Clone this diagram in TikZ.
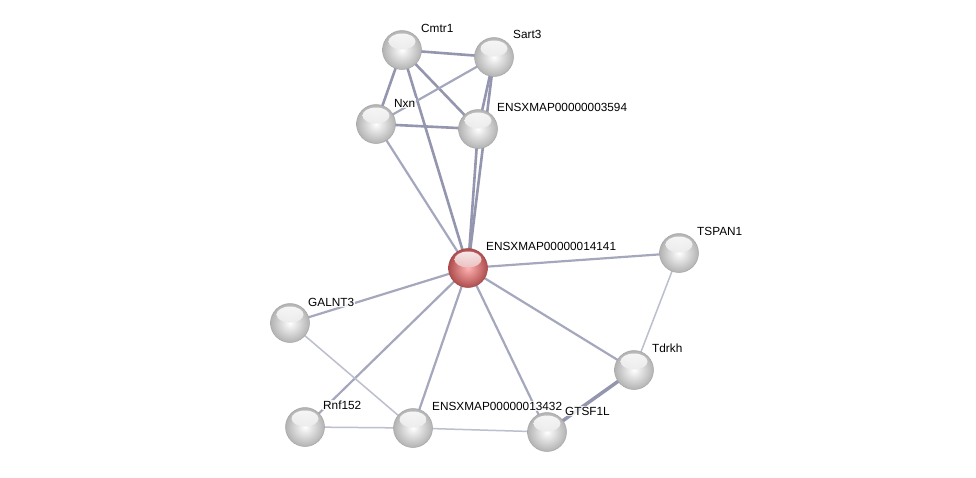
\documentclass[tikz,border=0pt]{standalone}
\usepackage{fontspec}
\setmainfont{Liberation Sans}
\usetikzlibrary{backgrounds}
\definecolor{edgedark}{HTML}{9396AE}
\definecolor{edgemid}{HTML}{A5A8BC}
\definecolor{edgelight}{HTML}{BCBFCD}
\definecolor{hlgray}{HTML}{D6D6D6}
\definecolor{hlred}{HTML}{D98585}
\tikzset{
  hlcol/.store in=\hlcol, hlcol=hlgray,
  prot/.style={circle,minimum size=39pt,inner sep=0pt,draw=gray!70,line width=0.5pt,
    inner color=white,outer color=gray!60,
    path picture={\shade[top color=white,bottom color=\hlcol,opacity=0.9] ([yshift=8.5pt]path picture bounding box.center) ellipse [x radius=13.5pt,y radius=8pt];}},
  qprot/.style={prot,hlcol=hlred,inner color=red!30!white,outer color=red!55!black!70!white,draw=red!45!black!70},
  lbl/.style={anchor=west,inner sep=1pt,fill=white,fill opacity=0.85,text opacity=1,font=\fontsize{11.8}{13}\selectfont},
  estrong/.style={draw=edgedark,line width=2.6pt},
  emid/.style={draw=edgemid,line width=2.2pt},
  eweak/.style={draw=edgelight,line width=1.5pt},
}
\begin{document}
\begin{tikzpicture}[x=1pt,y=-1pt]
\useasboundingbox (0,0) rectangle (976,477);
% nodes
\node[prot] (cmtr1) at (402,50) {};
\node[prot] (sart3) at (494,57) {};
\node[prot] (nxn) at (376,124) {};
\node[prot] (e3594) at (478,129) {};
\node[qprot] (e14141) at (468,268) {};
\node[prot] (tspan1) at (679,253) {};
\node[prot] (galnt3) at (290,323) {};
\node[prot] (tdrkh) at (634,370) {};
\node[prot] (rnf152) at (305,427) {};
\node[prot] (e13432) at (413,428) {};
\node[prot] (gtsf1l) at (547,432) {};
% edges
\begin{scope}[on background layer]
\fill[white] (0,0) rectangle (976,477);
\draw[estrong] (cmtr1.center) -- (sart3.center);
\draw[estrong] (cmtr1.center) -- (nxn.center);
\draw[estrong] (cmtr1.center) -- (e3594.center);
\draw[estrong] (cmtr1.center) -- (e14141.center);
\draw[emid] (sart3.center) -- (nxn.center);
\draw[estrong] (sart3.center) -- (e3594.center);
\draw[estrong] (sart3.center) -- (e14141.center);
\draw[estrong] (nxn.center) -- (e3594.center);
\draw[emid] (nxn.center) -- (e14141.center);
\draw[estrong] (e3594.center) -- (e14141.center);
\draw[emid] (e14141.center) -- (tspan1.center);
\draw[emid] (e14141.center) -- (galnt3.center);
\draw[emid] (e14141.center) -- (rnf152.center);
\draw[emid] (e14141.center) -- (e13432.center);
\draw[emid] (e14141.center) -- (gtsf1l.center);
\draw[emid] (e14141.center) -- (tdrkh.center);
\draw[eweak] (tspan1.center) -- (tdrkh.center);
\draw[eweak] (galnt3.center) -- (e13432.center);
\draw[eweak] (rnf152.center) -- (e13432.center);
\draw[eweak] (e13432.center) -- (gtsf1l.center);
\draw[draw=edgedark,line width=3.5pt] (tdrkh.center) -- (gtsf1l.center);
\end{scope}
% labels
\node[lbl] (lcmtr1) at (420,28) {Cmtr1};
\node[lbl] (lsart3) at (512,34) {Sart3};
\node[lbl] (lnxn) at (393,103) {Nxn};
\node[lbl] (l3594) at (496,107) {ENSXMAP00000003594};
\node[lbl] (l14141) at (485,246) {ENSXMAP00000014141};
\node[lbl] (ltspan1) at (696,231) {TSPAN1};
\node[lbl] (lgalnt3) at (307,302) {GALNT3};
\node[lbl] (ltdrkh) at (651,348) {Tdrkh};
\node[lbl] (lrnf152) at (322,405) {Rnf152};
\node[lbl] (l13432) at (431,406) {ENSXMAP00000013432};
\node[lbl] (lgtsf1l) at (564,411) {GTSF1L};
\end{tikzpicture}
\end{document}
